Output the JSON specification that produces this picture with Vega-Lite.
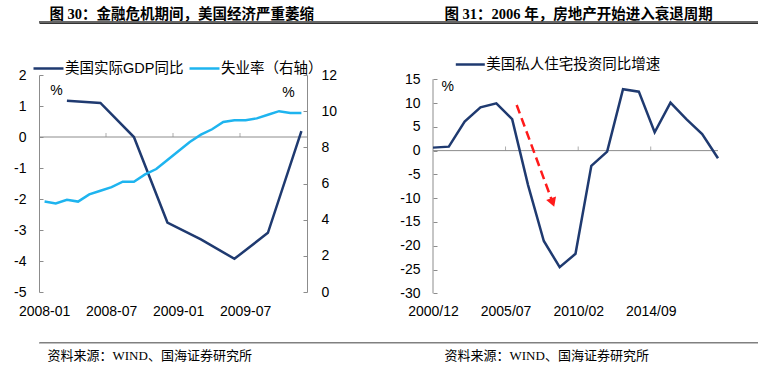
{
  "$schema": "https://vega.github.io/schema/vega-lite/v6.json",
  "padding": {"left": 0, "top": 6, "right": 0, "bottom": 0},
  "background": "white",
  "config": {
    "view": {"stroke": null},
    "font": "Liberation Sans",
    "axis": {"labelFont": "Liberation Sans", "labelFontSize": 14, "labelColor": "#000", "titleFont": "Liberation Sans", "titleFontSize": 14, "titleFontWeight": "normal", "titleColor": "#000", "domainColor": "#8c8c8c", "tickColor": "#8c8c8c", "grid": false, "labelOverlap": false}
  },
  "datasets": {
    "gdp": [
      {"month": "2008-03", "value": 1.17, "series": "美国实际GDP同比"},
      {"month": "2008-06", "value": 1.1, "series": "美国实际GDP同比"},
      {"month": "2008-09", "value": 0.0, "series": "美国实际GDP同比"},
      {"month": "2008-12", "value": -2.76, "series": "美国实际GDP同比"},
      {"month": "2009-03", "value": -3.3, "series": "美国实际GDP同比"},
      {"month": "2009-06", "value": -3.93, "series": "美国实际GDP同比"},
      {"month": "2009-09", "value": -3.09, "series": "美国实际GDP同比"},
      {"month": "2009-12", "value": 0.19, "series": "美国实际GDP同比"}
    ],
    "unemp": [
      {"month": "2008-01", "value": 5.0, "series": "失业率（右轴）"},
      {"month": "2008-02", "value": 4.9, "series": "失业率（右轴）"},
      {"month": "2008-03", "value": 5.1, "series": "失业率（右轴）"},
      {"month": "2008-04", "value": 5.0, "series": "失业率（右轴）"},
      {"month": "2008-05", "value": 5.4, "series": "失业率（右轴）"},
      {"month": "2008-06", "value": 5.6, "series": "失业率（右轴）"},
      {"month": "2008-07", "value": 5.8, "series": "失业率（右轴）"},
      {"month": "2008-08", "value": 6.1, "series": "失业率（右轴）"},
      {"month": "2008-09", "value": 6.1, "series": "失业率（右轴）"},
      {"month": "2008-10", "value": 6.5, "series": "失业率（右轴）"},
      {"month": "2008-11", "value": 6.8, "series": "失业率（右轴）"},
      {"month": "2008-12", "value": 7.3, "series": "失业率（右轴）"},
      {"month": "2009-01", "value": 7.8, "series": "失业率（右轴）"},
      {"month": "2009-02", "value": 8.3, "series": "失业率（右轴）"},
      {"month": "2009-03", "value": 8.7, "series": "失业率（右轴）"},
      {"month": "2009-04", "value": 9.0, "series": "失业率（右轴）"},
      {"month": "2009-05", "value": 9.4, "series": "失业率（右轴）"},
      {"month": "2009-06", "value": 9.5, "series": "失业率（右轴）"},
      {"month": "2009-07", "value": 9.5, "series": "失业率（右轴）"},
      {"month": "2009-08", "value": 9.6, "series": "失业率（右轴）"},
      {"month": "2009-09", "value": 9.8, "series": "失业率（右轴）"},
      {"month": "2009-10", "value": 10.0, "series": "失业率（右轴）"},
      {"month": "2009-11", "value": 9.9, "series": "失业率（右轴）"},
      {"month": "2009-12", "value": 9.9, "series": "失业率（右轴）"}
    ],
    "ticksL": [{"month": "2008-07"}, {"month": "2009-01"}, {"month": "2009-07"}],
    "zero": [{"zero": 0}],
    "housing": [
      {"date": "2000-12-01", "value": 0.63, "series": "美国私人住宅投资同比增速"},
      {"date": "2001-12-01", "value": 0.84, "series": "美国私人住宅投资同比增速"},
      {"date": "2002-12-01", "value": 6.1, "series": "美国私人住宅投资同比增速"},
      {"date": "2003-12-01", "value": 9.1, "series": "美国私人住宅投资同比增速"},
      {"date": "2004-12-01", "value": 9.95, "series": "美国私人住宅投资同比增速"},
      {"date": "2005-12-01", "value": 6.6, "series": "美国私人住宅投资同比增速"},
      {"date": "2006-12-01", "value": -7.2, "series": "美国私人住宅投资同比增速"},
      {"date": "2007-12-01", "value": -19.0, "series": "美国私人住宅投资同比增速"},
      {"date": "2008-12-01", "value": -24.5, "series": "美国私人住宅投资同比增速"},
      {"date": "2009-12-01", "value": -21.7, "series": "美国私人住宅投资同比增速"},
      {"date": "2010-12-01", "value": -3.2, "series": "美国私人住宅投资同比增速"},
      {"date": "2011-12-01", "value": -0.2, "series": "美国私人住宅投资同比增速"},
      {"date": "2012-12-01", "value": 12.9, "series": "美国私人住宅投资同比增速"},
      {"date": "2013-12-01", "value": 12.4, "series": "美国私人住宅投资同比增速"},
      {"date": "2014-12-01", "value": 3.85, "series": "美国私人住宅投资同比增速"},
      {"date": "2015-12-01", "value": 10.1, "series": "美国私人住宅投资同比增速"},
      {"date": "2016-12-01", "value": 6.6, "series": "美国私人住宅投资同比增速"},
      {"date": "2017-12-01", "value": 3.5, "series": "美国私人住宅投资同比增速"},
      {"date": "2018-12-01", "value": -1.6, "series": "美国私人住宅投资同比增速"}
    ],
    "ticksR": [{"date": "2005-07-01"}, {"date": "2010-02-01"}, {"date": "2014-09-01"}],
    "axisR": [{"date": "2000-12-01", "lo": -30, "hi": 15}],
    "arrow": [{"x0": "2006-03-15", "y0": 9.6, "x1": "2008-06-22", "y1": -10.9}]
  },
  "vconcat": [
    {
      "width": 755, "height": 2,
      "data": {"name": "zero"},
      "mark": {"type": "rule", "color": "#333333", "strokeWidth": 1.5},
      "encoding": {
        "x": {"datum": 0, "type": "quantitative", "scale": {"domain": [0, 1], "nice": false, "zero": false}, "axis": {"orient": "bottom", "domain": true, "domainColor": "#333333", "domainWidth": 1, "ticks": false, "labels": false, "grid": false, "title": "图 30：金融危机期间，美国经济严重萎缩", "titleX": 10, "titleY": -5, "titleAlign": "left", "titleBaseline": "alphabetic", "titleFont": "Liberation Serif, Noto Sans CJK SC", "titleFontSize": 14.5, "titleFontWeight": "bold", "titleColor": "#000"}},
        "x2": {"datum": 1},
        "y": {"field": "zero", "type": "quantitative", "scale": {"domain": [-1, 1], "nice": false, "zero": false}, "axis": {"orient": "left", "domain": false, "ticks": false, "labels": false, "grid": false, "title": "图 31：2006 年，房地产开始进入衰退周期", "titleAngle": 0, "titleX": 405, "titleY": -3, "titleAlign": "left", "titleBaseline": "alphabetic", "titleFont": "Liberation Serif, Noto Sans CJK SC", "titleFontSize": 14.5, "titleFontWeight": "bold", "titleColor": "#000"}}
      }
    },
    {
      "vconcat": [
        {
          "resolve": {"scale": {"color": "independent"}, "legend": {"color": "independent"}},
          "hconcat": [
            {
              "width": 268, "height": 217,
              "resolve": {"scale": {"y": "independent"}},
              "layer": [
                {
                  "layer": [
                    {
                      "data": {"name": "zero"},
                      "mark": {"type": "rule", "color": "#8c8c8c", "strokeWidth": 1},
                      "encoding": {"y": {"field": "zero", "type": "quantitative", "scale": {"domain": [-5, 2], "nice": false, "zero": false}, "axis": {"values": [-5,-4,-3,-2,-1,0,1,2], "labelExpr": "'' + datum.value", "tickSize": -4, "labelPadding": 17, "title": "%", "titleAngle": 0, "titleX": 17, "titleY": 15, "titleAlign": "center", "titleBaseline": "middle"}}}
                    },
                    {
                      "data": {"name": "ticksL"},
                      "mark": {"type": "tick", "orient": "vertical", "color": "#8c8c8c", "size": 4, "thickness": 1, "yOffset": -2},
                      "encoding": {
                        "x": {"field": "month", "type": "ordinal", "bandPosition": 0, "scale": {"type": "band", "domain": ["2008-01","2008-02","2008-03","2008-04","2008-05","2008-06","2008-07","2008-08","2008-09","2008-10","2008-11","2008-12","2009-01","2009-02","2009-03","2009-04","2009-05","2009-06","2009-07","2009-08","2009-09","2009-10","2009-11","2009-12"], "paddingInner": 0, "paddingOuter": 0}, "axis": {"values": ["2008-01","2008-07","2009-01","2009-07"], "domain": false, "ticks": false, "labelPadding": 12, "labelAngle": 0, "title": null}},
                        "y": {"datum": 0, "type": "quantitative", "axis": {"values": [-5,-4,-3,-2,-1,0,1,2], "labelExpr": "'' + datum.value", "tickSize": -4, "labelPadding": 17, "title": "%", "titleAngle": 0, "titleX": 17, "titleY": 15, "titleAlign": "center", "titleBaseline": "middle"}}
                      }
                    },
                    {
                      "data": {"name": "gdp"},
                      "mark": {"type": "line", "strokeWidth": 2.5},
                      "encoding": {
                        "x": {"field": "month", "type": "ordinal", "bandPosition": 0.5, "scale": {"type": "band", "domain": ["2008-01","2008-02","2008-03","2008-04","2008-05","2008-06","2008-07","2008-08","2008-09","2008-10","2008-11","2008-12","2009-01","2009-02","2009-03","2009-04","2009-05","2009-06","2009-07","2009-08","2009-09","2009-10","2009-11","2009-12"], "paddingInner": 0, "paddingOuter": 0}, "axis": {"values": ["2008-01","2008-07","2009-01","2009-07"], "domain": false, "ticks": false, "labelPadding": 12, "labelAngle": 0, "title": null}},
                        "y": {"field": "value", "type": "quantitative", "scale": {"domain": [-5, 2], "nice": false, "zero": false}, "axis": {"values": [-5,-4,-3,-2,-1,0,1,2], "labelExpr": "'' + datum.value", "tickSize": -4, "labelPadding": 17, "title": "%", "titleAngle": 0, "titleX": 17, "titleY": 15, "titleAlign": "center", "titleBaseline": "middle"}},
                        "color": {"field": "series", "type": "nominal", "scale": {"domain": ["美国实际GDP同比", "失业率（右轴）"], "range": ["#1f3a70", "#1eb4ef"]}, "legend": {"orient": "none", "legendX": -39, "legendY": -55, "direction": "horizontal", "title": null, "symbolType": "stroke", "symbolSize": 900, "symbolStrokeWidth": 2.5, "labelFontSize": 14.5, "labelFont": "Liberation Sans, Noto Sans CJK SC", "labelColor": "#000", "labelOffset": 0, "columnPadding": 0, "padding": 32, "labelLimit": 400}}
                      }
                    }
                  ]
                },
                {
                  "data": {"name": "unemp"},
                  "mark": {"type": "line", "strokeWidth": 2.5},
                  "encoding": {
                    "x": {"field": "month", "type": "ordinal", "bandPosition": 0.5, "scale": {"type": "band", "domain": ["2008-01","2008-02","2008-03","2008-04","2008-05","2008-06","2008-07","2008-08","2008-09","2008-10","2008-11","2008-12","2009-01","2009-02","2009-03","2009-04","2009-05","2009-06","2009-07","2009-08","2009-09","2009-10","2009-11","2009-12"], "paddingInner": 0, "paddingOuter": 0}, "axis": {"values": ["2008-01","2008-07","2009-01","2009-07"], "domain": false, "ticks": false, "labelPadding": 12, "labelAngle": 0, "title": null}},
                    "y": {"field": "value", "type": "quantitative", "scale": {"domain": [0, 12], "nice": false}, "axis": {"orient": "right", "values": [0,2,4,6,8,10,12], "tickSize": -4, "labelPadding": 18, "title": "%", "titleAngle": 0, "titleX": -19, "titleY": 17, "titleAlign": "center", "titleBaseline": "middle"}},
                    "color": {"field": "series", "type": "nominal", "scale": {"domain": ["美国实际GDP同比", "失业率（右轴）"], "range": ["#1f3a70", "#1eb4ef"]}, "legend": {"orient": "none", "legendX": -39, "legendY": -55, "direction": "horizontal", "title": null, "symbolType": "stroke", "symbolSize": 900, "symbolStrokeWidth": 2.5, "labelFontSize": 14.5, "labelFont": "Liberation Sans, Noto Sans CJK SC", "labelColor": "#000", "labelOffset": 0, "columnPadding": 0, "padding": 32, "labelLimit": 400}}
                  }
                }
              ]
            },
            {
              "width": 285, "height": 218.3,
              "layer": [
                {
                  "data": {"name": "zero"},
                  "mark": {"type": "rule", "color": "#8c8c8c", "strokeWidth": 1},
                  "encoding": {"y": {"field": "zero", "type": "quantitative", "scale": {"domain": [-30, 15.9], "nice": false, "zero": false}, "axis": {"values": [-30,-25,-20,-15,-10,-5,0,5,10,15], "labelExpr": "'' + datum.value", "domain": false, "tickSize": -4, "labelPadding": 17, "title": "%", "titleAngle": 0, "titleX": 14.3, "titleY": 11.7, "titleAlign": "center", "titleBaseline": "middle"}}}
                },
                {
                  "data": {"name": "axisR"},
                  "mark": {"type": "rule", "color": "#8c8c8c", "strokeWidth": 1},
                  "encoding": {
                    "x": {"field": "date", "type": "temporal", "scale": {"type": "utc", "domain": [{"year": 2000, "month": 12, "date": 1, "utc": true}, {"year": 2018, "month": 12, "date": 1, "utc": true}], "nice": false}, "axis": {"values": [{"year": 2000, "month": 12, "date": 1, "utc": true}, {"year": 2005, "month": 7, "date": 1, "utc": true}, {"year": 2010, "month": 2, "date": 1, "utc": true}, {"year": 2014, "month": 9, "date": 1, "utc": true}], "format": "%Y/%m", "domain": false, "ticks": false, "labelPadding": 11, "labelFlush": false, "labelAngle": 0, "title": null}},
                    "y": {"field": "lo", "type": "quantitative", "axis": {"values": [-30,-25,-20,-15,-10,-5,0,5,10,15], "labelExpr": "'' + datum.value", "domain": false, "tickSize": -4, "labelPadding": 17, "title": "%", "titleAngle": 0, "titleX": 14.3, "titleY": 11.7, "titleAlign": "center", "titleBaseline": "middle"}},
                    "y2": {"field": "hi"}
                  }
                },
                {
                  "data": {"name": "ticksR"},
                  "mark": {"type": "tick", "orient": "vertical", "color": "#8c8c8c", "size": 4, "thickness": 1, "yOffset": -2},
                  "encoding": {
                    "x": {"field": "date", "type": "temporal", "axis": {"values": [{"year": 2000, "month": 12, "date": 1, "utc": true}, {"year": 2005, "month": 7, "date": 1, "utc": true}, {"year": 2010, "month": 2, "date": 1, "utc": true}, {"year": 2014, "month": 9, "date": 1, "utc": true}], "format": "%Y/%m", "domain": false, "ticks": false, "labelPadding": 11, "labelFlush": false, "labelAngle": 0, "title": null}},
                    "y": {"datum": 0, "type": "quantitative", "axis": {"values": [-30,-25,-20,-15,-10,-5,0,5,10,15], "labelExpr": "'' + datum.value", "domain": false, "tickSize": -4, "labelPadding": 17, "title": "%", "titleAngle": 0, "titleX": 14.3, "titleY": 11.7, "titleAlign": "center", "titleBaseline": "middle"}}
                  }
                },
                {
                  "data": {"name": "housing"},
                  "mark": {"type": "line", "strokeWidth": 2.5},
                  "encoding": {
                    "x": {"field": "date", "type": "temporal", "scale": {"type": "utc", "domain": [{"year": 2000, "month": 12, "date": 1, "utc": true}, {"year": 2018, "month": 12, "date": 1, "utc": true}], "nice": false}, "axis": {"values": [{"year": 2000, "month": 12, "date": 1, "utc": true}, {"year": 2005, "month": 7, "date": 1, "utc": true}, {"year": 2010, "month": 2, "date": 1, "utc": true}, {"year": 2014, "month": 9, "date": 1, "utc": true}], "format": "%Y/%m", "domain": false, "ticks": false, "labelPadding": 11, "labelFlush": false, "labelAngle": 0, "title": null}},
                    "y": {"field": "value", "type": "quantitative", "scale": {"domain": [-30, 15.9], "nice": false, "zero": false}, "axis": {"values": [-30,-25,-20,-15,-10,-5,0,5,10,15], "labelExpr": "'' + datum.value", "domain": false, "tickSize": -4, "labelPadding": 17, "title": "%", "titleAngle": 0, "titleX": 14.3, "titleY": 11.7, "titleAlign": "center", "titleBaseline": "middle"}},
                    "color": {"field": "series", "type": "nominal", "scale": {"domain": ["美国私人住宅投资同比增速"], "range": ["#1f3a70"]}, "legend": {"orient": "none", "legendX": 21.3, "legendY": -26.5, "direction": "horizontal", "title": null, "symbolType": "stroke", "symbolSize": 841, "symbolStrokeWidth": 2.5, "labelFontSize": 14.5, "labelFont": "Liberation Sans, Noto Sans CJK SC", "labelColor": "#000", "labelOffset": 0, "padding": 0, "labelLimit": 400}}
                  }
                },
                {
                  "data": {"name": "arrow"},
                  "mark": {"type": "rule", "color": "#ff1a1a", "strokeWidth": 2.5, "strokeDash": [9, 5]},
                  "encoding": {
                    "x": {"field": "x0", "type": "temporal", "axis": {"values": [{"year": 2000, "month": 12, "date": 1, "utc": true}, {"year": 2005, "month": 7, "date": 1, "utc": true}, {"year": 2010, "month": 2, "date": 1, "utc": true}, {"year": 2014, "month": 9, "date": 1, "utc": true}], "format": "%Y/%m", "domain": false, "ticks": false, "labelPadding": 11, "labelFlush": false, "labelAngle": 0, "title": null}},
                    "x2": {"field": "x1"},
                    "y": {"field": "y0", "type": "quantitative", "axis": {"values": [-30,-25,-20,-15,-10,-5,0,5,10,15], "labelExpr": "'' + datum.value", "domain": false, "tickSize": -4, "labelPadding": 17, "title": "%", "titleAngle": 0, "titleX": 14.3, "titleY": 11.7, "titleAlign": "center", "titleBaseline": "middle"}},
                    "y2": {"field": "y1"}
                  }
                },
                {
                  "data": {"name": "arrow"},
                  "mark": {"type": "point", "shape": "triangle-down", "size": 110, "filled": true, "color": "#ff1a1a", "opacity": 1, "angle": -20},
                  "encoding": {
                    "x": {"field": "x1", "type": "temporal", "axis": {"values": [{"year": 2000, "month": 12, "date": 1, "utc": true}, {"year": 2005, "month": 7, "date": 1, "utc": true}, {"year": 2010, "month": 2, "date": 1, "utc": true}, {"year": 2014, "month": 9, "date": 1, "utc": true}], "format": "%Y/%m", "domain": false, "ticks": false, "labelPadding": 11, "labelFlush": false, "labelAngle": 0, "title": null}},
                    "y": {"field": "y1", "type": "quantitative", "axis": {"values": [-30,-25,-20,-15,-10,-5,0,5,10,15], "labelExpr": "'' + datum.value", "domain": false, "tickSize": -4, "labelPadding": 17, "title": "%", "titleAngle": 0, "titleX": 14.3, "titleY": 11.7, "titleAlign": "center", "titleBaseline": "middle"}}
                  }
                }
              ]
            }
          ],
          "spacing": 44
        },
        {
          "width": 758, "height": 2,
          "data": {"name": "zero"},
          "mark": {"type": "rule", "color": "#808080", "strokeWidth": 1},
          "encoding": {
            "x": {"datum": 0, "type": "quantitative", "scale": {"domain": [0, 1], "nice": false, "zero": false}, "axis": {"orient": "top", "domain": true, "domainColor": "#808080", "domainWidth": 1, "ticks": false, "labels": false, "grid": false, "title": "资料来源：WIND、国海证券研究所", "titleX": 8, "titleY": 17, "titleAlign": "left", "titleBaseline": "alphabetic", "titleFont": "Liberation Serif, Noto Sans CJK SC", "titleFontSize": 13, "titleFontWeight": "normal", "titleColor": "#000"}},
            "x2": {"datum": 1},
            "y": {"field": "zero", "type": "quantitative", "scale": {"domain": [-1, 1], "nice": false, "zero": false}, "axis": {"orient": "left", "domain": false, "ticks": false, "labels": false, "grid": false, "title": "资料来源：WIND、国海证券研究所", "titleAngle": 0, "titleX": 405, "titleY": 17, "titleAlign": "left", "titleBaseline": "alphabetic", "titleFont": "Liberation Serif, Noto Sans CJK SC", "titleFontSize": 13, "titleFontWeight": "normal", "titleColor": "#000"}}
          }
        }
      ],
      "spacing": 23
    }
  ],
  "spacing": -3
}
